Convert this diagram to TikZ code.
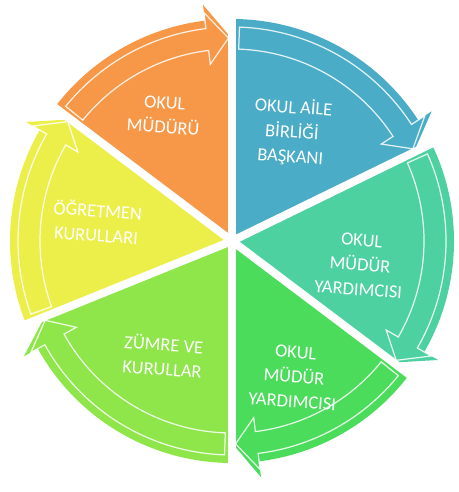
\documentclass[tikz,border=0pt]{standalone}
\usepackage{fontspec}
\setmainfont{Carlito}
\usepackage{tikz}

\definecolor{segorange}{RGB}{246,152,72}
\definecolor{segblue}{RGB}{74,172,198}
\definecolor{segteal}{RGB}{77,209,161}
\definecolor{seggreen}{RGB}{75,220,92}
\definecolor{seglime}{RGB}{142,230,74}
\definecolor{segyellow}{RGB}{236,239,74}

\begin{document}
\begin{tikzpicture}[x=0.02cm, y=0.02cm,
    gapline/.style={draw=white, line width=0.16cm},
    arrowline/.style={draw=white, line width=0.7pt, opacity=0.85, line join=miter},
    segtext/.style={text=white, align=center, rotate=-4, font=\fontsize{10.5}{14}\selectfont}]
  \useasboundingbox (0,0) rectangle (458,492);
  \begin{scope}[shift={(232,251)}]
    % segment fills
    \fill[segorange] (0,0) -- (143:222) arc[start angle=143, end angle=97, radius=222] -- (97:238) -- (90:202) -- cycle;
    \fill[segblue] (0,0) -- (90:222) arc[start angle=90, end angle=33, radius=222] -- (33:238) -- (26:202) -- cycle;
    \fill[segteal] (0,0) -- (26:222) arc[start angle=26, end angle=-30, radius=222] -- (-30:238) -- (-37:202) -- cycle;
    \fill[seggreen] (0,0) -- (-37:222) arc[start angle=-37, end angle=-83, radius=222] -- (-83:238) -- (-90:202) -- cycle;
    \fill[seglime] (0,0) -- (-90:222) arc[start angle=-90, end angle=-151, radius=222] -- (-151:238) -- (-158:202) -- cycle;
    \fill[segyellow] (0,0) -- (202:222) arc[start angle=202, end angle=150, radius=222] -- (150:238) -- (143:202) -- cycle;
    % gaps between segments
    \draw[gapline] (0,0) -- (90:245);
    \draw[gapline] (0,0) -- (26:245);
    \draw[gapline] (0,0) -- (-37:245);
    \draw[gapline] (0,0) -- (-90:245);
    \draw[gapline] (0,0) -- (-158:245);
    \draw[gapline] (0,0) -- (143:245);
    % arrow outlines
    \draw[arrowline] (141:192) arc[start angle=141, end angle=97, radius=192] -- (97:178) -- (91:203) -- (97:230) -- (97:214) arc[start angle=97, end angle=141, radius=214] -- cycle;
    \draw[arrowline] (88:192) arc[start angle=88, end angle=33, radius=192] -- (33:178) -- (27:203) -- (33:230) -- (33:214) arc[start angle=33, end angle=88, radius=214] -- cycle;
    \draw[arrowline] (24:192) arc[start angle=24, end angle=-30, radius=192] -- (-30:178) -- (-36:203) -- (-30:230) -- (-30:214) arc[start angle=-30, end angle=24, radius=214] -- cycle;
    \draw[arrowline] (-39:192) arc[start angle=-39, end angle=-83, radius=192] -- (-83:178) -- (-89:203) -- (-83:230) -- (-83:214) arc[start angle=-83, end angle=-39, radius=214] -- cycle;
    \draw[arrowline] (-92:192) arc[start angle=-92, end angle=-151, radius=192] -- (-151:178) -- (-157:203) -- (-151:230) -- (-151:214) arc[start angle=-151, end angle=-92, radius=214] -- cycle;
    \draw[arrowline] (200:192) arc[start angle=200, end angle=150, radius=192] -- (150:178) -- (144:203) -- (150:230) -- (150:214) arc[start angle=150, end angle=200, radius=214] -- cycle;
  \end{scope}
  % labels
  \node[segtext] (mudur) at (164,377) {OKUL\\MÜDÜRÜ};
  \node[segtext] (aile) at (292,360) {OKUL AİLE\\BİRLİĞİ\\BAŞKANI};
  \node[segtext] (yardimciA) at (360,227) {OKUL\\MÜDÜR\\YARDIMCISI};
  \node[segtext] (yardimciB) at (294,115) {OKUL\\MÜDÜR\\YARDIMCISI};
  \node[segtext] (zumre) at (163,136) {ZÜMRE VE\\KURULLAR};
  \node[segtext] (ogretmen) at (97,270) {ÖĞRETMEN\\KURULLARI};
\end{tikzpicture}
\end{document}
